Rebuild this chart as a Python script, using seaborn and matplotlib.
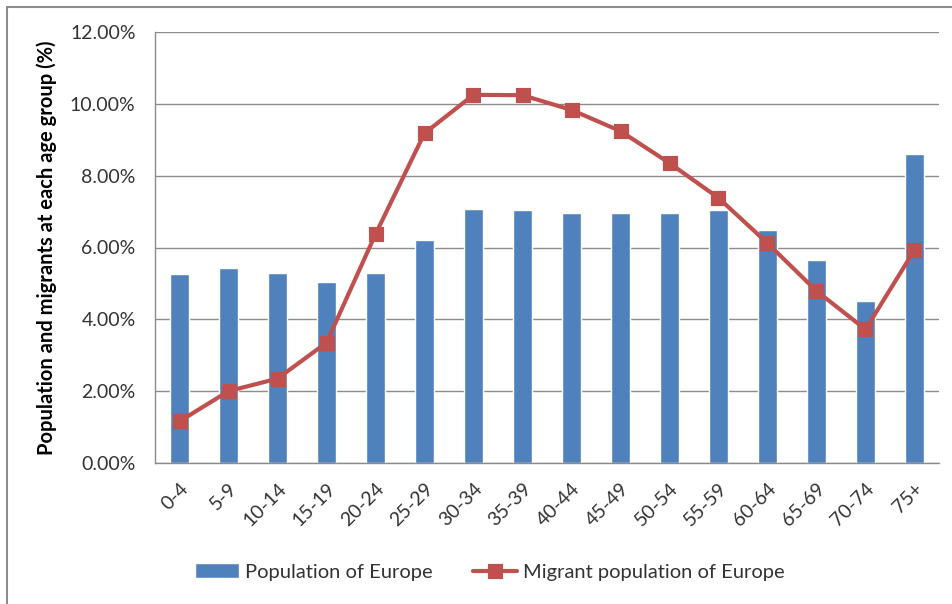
import matplotlib
matplotlib.use("Agg")
import matplotlib.pyplot as plt
from matplotlib.lines import Line2D
from matplotlib.ticker import FuncFormatter
import seaborn as sns
import pandas as pd

age_groups = ["0-4", "5-9", "10-14", "15-19", "20-24", "25-29", "30-34", "35-39",
              "40-44", "45-49", "50-54", "55-59", "60-64", "65-69", "70-74", "75+"]
population_europe = [5.25, 5.44, 5.29, 5.03, 5.29, 6.22, 7.07, 7.04,
                     6.96, 6.96, 6.96, 7.04, 6.48, 5.66, 4.51, 8.60]
migrant_population = [1.16, 2.00, 2.35, 3.35, 6.37, 9.18, 10.25, 10.24,
                      9.83, 9.24, 8.35, 7.38, 6.12, 4.79, 3.72, 5.93]
y_ticks = [0, 2, 4, 6, 8, 10, 12]

sns.set_style("white")
plt.rcParams["font.family"] = ["Lato", "DejaVu Sans"]

df = pd.DataFrame({"age": age_groups, "pop": population_europe, "mig": migrant_population})

fig = plt.figure(figsize=(9.52, 6.04), dpi=100)
ax = fig.add_axes([155 / 952, (604 - 463) / 604, (939 - 155) / 952, (463 - 32) / 604])

bar_color = "#4F81BD"
line_color = "#C0504D"

sns.barplot(data=df, x="age", y="pop", color=bar_color, width=0.4, ax=ax,
            saturation=1, label="Population of Europe", zorder=2)
sns.pointplot(data=df, x="age", y="mig", color=line_color, markers="s",
              markersize=8.5, linewidth=3, ax=ax, label="Migrant population of Europe",
              zorder=3)
if ax.get_legend() is not None:
    ax.get_legend().remove()

ax.set_xlim(-0.5, len(age_groups) - 0.5)
ax.set_ylim(0, 12)
ax.set_yticks(y_ticks)
ax.yaxis.set_major_formatter(FuncFormatter(lambda v, p: f"{v:.2f}%"))
ax.grid(axis="y", color="#8C8C8C", linewidth=1.0, zorder=0)
ax.set_axisbelow(True)
for s in ["top", "right"]:
    ax.spines[s].set_visible(False)
ax.spines["left"].set_color("#8C8C8C")
ax.spines["bottom"].set_color("#8C8C8C")
ax.spines["left"].set_linewidth(1.0)
ax.spines["bottom"].set_linewidth(1.0)

ax.set_xlabel("")
ax.set_ylabel("Population and migrants at each age group (%)", fontsize=14.5,
              fontweight="bold", color="#000000", labelpad=9)
ax.tick_params(axis="y", labelsize=14, pad=14, length=0, colors="#333333")
ax.tick_params(axis="x", labelsize=14, pad=12, length=0, colors="#333333")
for lbl in ax.get_xticklabels():
    lbl.set_rotation(45)
    lbl.set_ha("right")
    lbl.set_rotation_mode("anchor")

handles, labels = ax.get_legend_handles_labels()
order = [labels.index("Population of Europe"), labels.index("Migrant population of Europe")]
handles = [handles[i] for i in order]
labels = [labels[i] for i in order]
leg = fig.legend(handles, labels, loc="center", bbox_to_anchor=(490 / 952, 32 / 604),
                 ncol=2, frameon=False, fontsize=14.5, handlelength=2.2,
                 handletextpad=0.3, columnspacing=2.0, labelcolor="#333333")

fig.add_artist(Line2D([7 / 952, 1.0], [1 - 7 / 604, 1 - 7 / 604],
                      transform=fig.transFigure, color="#8C8C8C", linewidth=1.5))
fig.add_artist(Line2D([7 / 952, 7 / 952], [0, 1 - 7 / 604],
                      transform=fig.transFigure, color="#8C8C8C", linewidth=1.5))

fig.savefig("out.png", dpi=100)
